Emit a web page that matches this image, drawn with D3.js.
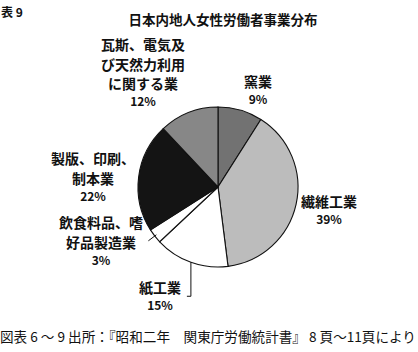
<!DOCTYPE html>
<html>
<head>
<meta charset="utf-8">
<script src="https://cdn.jsdelivr.net/npm/d3@7"></script>
<style>
  body { margin: 0; background: #fff; }
  text { font-family: "Noto Sans CJK JP", sans-serif; fill: #111; }
</style>
</head>
<body>
<div id="chart"></div>
<script>
const categories = ["窯業", "繊維工業", "紙工業", "飲食料品、嗜好品製造業", "製版、印刷、制本業", "瓦斯、電気及び天然力利用に関する業"];
const values = [9, 39, 15, 3, 22, 12];
const labelLines = [
  ["窯業", "9%"],
  ["繊維工業", "39%"],
  ["紙工業", "15%"],
  ["飲食料品、嗜", "好品製造業", "3%"],
  ["製版、印刷、", "制本業", "22%"],
  ["瓦斯、電気及", "び天然力利用", "に関する業", "12%"]
];
const fills = ["#727272", "#bcbcbc", "#ffffff", "#ffffff", "#141414", "#878787"];

const WIDTH = 418, HEIGHT = 352;
const CX = 218, CY = 187, R = 80;
// label anchor (center x, first line y) for each slice
const labelPos = [[258, 82], [329, 202], [160, 288], [101, 223], [93, 159], [143, 45]];
const LINE_H = 19.5;

const svg = d3.select("#chart").append("svg")
  .attr("width", WIDTH).attr("height", HEIGHT);

svg.append("text").attr("x", 1).attr("y", 17)
  .attr("font-size", 12).attr("font-weight", "bold").text("表 9");

svg.append("text").attr("x", 223).attr("y", 25)
  .attr("text-anchor", "middle").attr("font-size", 13.5).attr("font-weight", "bold")
  .text("日本内地人女性労働者事業分布");

const pie = d3.pie().sort(null).value(d => d);
const arcs = pie(values);
const arc = d3.arc().innerRadius(0).outerRadius(R);

const g = svg.append("g").attr("transform", `translate(${CX},${CY})`);
g.selectAll("path").data(arcs).enter().append("path")
  .attr("d", arc)
  .attr("fill", (d, i) => fills[i])
  .attr("stroke", "#111")
  .attr("stroke-width", 1.1);

// leader lines for the two small bottom slices
const mid = d => (d.startAngle + d.endAngle) / 2;
const onArc = (a, r) => [Math.sin(a) * r, -Math.cos(a) * r];
const pPaper = onArc(mid(arcs[2]), R);
g.append("path")
  .attr("d", `M${pPaper[0]},${pPaper[1]} L${pPaper[0]},${pPaper[1] + 34} l-4,0`)
  .attr("fill", "none").attr("stroke", "#111").attr("stroke-width", 1);
const pFood = onArc(mid(arcs[3]), R - 2);
g.append("path")
  .attr("d", `M${pFood[0]},${pFood[1]} L${pFood[0] - 8},${pFood[1] + 6}`)
  .attr("fill", "none").attr("stroke", "#111").attr("stroke-width", 1);

labelLines.forEach((lines, i) => {
  const t = svg.append("text")
    .attr("text-anchor", "middle").attr("font-weight", "bold");
  let y = labelPos[i][1] + 5;
  lines.forEach((s, j) => {
    const pct = s.endsWith("%");
    if (j > 0) y += pct ? 17 : LINE_H;
    t.append("tspan").attr("x", labelPos[i][0]).attr("y", y)
      .attr("font-size", pct ? 12 : 14)
      .text(s);
  });
});

svg.append("text").attr("x", 0).attr("y", 342)
  .attr("font-size", 13.6)
  .text("図表 6 ～ 9 出所：『昭和二年　関東庁労働統計書』 8 頁～11頁により");
</script>
</body>
</html>
